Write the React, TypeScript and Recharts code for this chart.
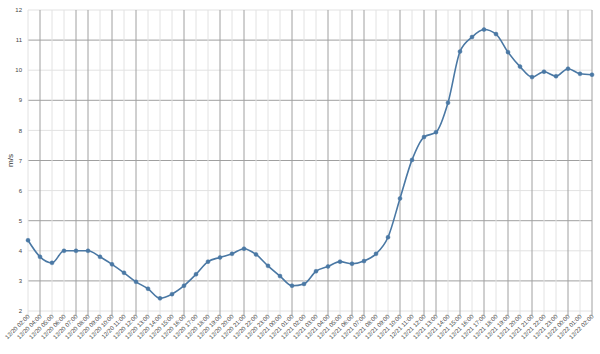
import React from 'react';
import { LineChart, Line, XAxis, YAxis, CartesianGrid } from 'recharts';

const times: string[] = [
  '12/20 02:00', '12/20 04:00', '12/20 05:00', '12/20 06:00', '12/20 07:00', '12/20 08:00',
  '12/20 09:00', '12/20 10:00', '12/20 11:00', '12/20 12:00', '12/20 13:00', '12/20 14:00',
  '12/20 15:00', '12/20 16:00', '12/20 17:00', '12/20 18:00', '12/20 19:00', '12/20 20:00',
  '12/20 21:00', '12/20 22:00', '12/20 23:00', '12/21 00:00', '12/21 01:00', '12/21 02:00',
  '12/21 03:00', '12/21 04:00', '12/21 05:00', '12/21 06:00', '12/21 07:00', '12/21 08:00',
  '12/21 09:00', '12/21 10:00', '12/21 11:00', '12/21 12:00', '12/21 13:00', '12/21 14:00',
  '12/21 15:00', '12/21 16:00', '12/21 17:00', '12/21 18:00', '12/21 19:00', '12/21 20:00',
  '12/21 21:00', '12/21 22:00', '12/21 23:00', '12/22 00:00', '12/22 01:00', '12/22 02:00',
];

const speeds: number[] = [
  4.35, 3.8, 3.6, 4.0, 4.0, 4.0,
  3.8, 3.55, 3.27, 2.97, 2.74, 2.42,
  2.56, 2.84, 3.22, 3.64, 3.78, 3.9,
  4.07, 3.88, 3.5, 3.16, 2.84, 2.9,
  3.32, 3.48, 3.64, 3.57, 3.66, 3.9,
  4.45, 5.74, 7.02, 7.78, 7.94, 8.92,
  10.62, 11.1, 11.35, 11.2, 10.6, 10.12,
  9.77, 9.95, 9.8, 10.05, 9.88, 9.85,
];

const yTicks: number[] = [2, 3, 4, 5, 6, 7, 8, 9, 10, 11, 12];

const darkVertical = new Set([1, 4, 5, 7, 9, 13, 16, 18, 22, 25, 27, 28, 31, 33, 34, 36, 38, 40, 42, 45, 47]);

const data = times.map((t, i) => ({ time: t, speed: speeds[i] }));

const FONT = '"Liberation Sans", Arial, Helvetica, sans-serif';

const XTick = (props: any) => {
  const { x, y, payload } = props;
  return (
    <g transform={`translate(${x + 2},${y})`}>
      <text
        x={0}
        y={0}
        textAnchor="end"
        transform="rotate(-45)"
        fontSize={6}
        fontFamily={FONT}
        fill="#444"
      >
        {payload.value}
      </text>
    </g>
  );
};

const vLine = (props: any) => {
  const { x1, y1, x2, y2, index } = props;
  return (
    <line
      key={`v-${index}`}
      x1={x1}
      y1={y1}
      x2={x2}
      y2={y2 + 4}
      stroke={darkVertical.has(index) ? '#a0a0a0' : '#e2e2e2'}
      strokeWidth={1}
    />
  );
};

const hLine = (props: any) => {
  const { x1, y1, x2, y2, index } = props;
  const dark = index % 2 === 1;
  return (
    <line
      key={`h-${index}`}
      x1={x1}
      y1={y1}
      x2={x2}
      y2={y2}
      stroke={dark ? '#a0a0a0' : '#e2e2e2'}
      strokeWidth={1}
    />
  );
};

export default function App() {
  return (
    <div style={{ position: 'absolute', left: 0, top: 0, width: 600, height: 354, background: '#fff' }}>
      <LineChart
        width={600}
        height={354}
        data={data}
        margin={{ top: 10, right: 8, left: 0, bottom: 0 }}
      >
        <CartesianGrid horizontal={hLine} vertical={vLine} />
        <XAxis
          dataKey="time"
          interval={0}
          height={43}
          tick={<XTick />}
          tickLine={false}
          axisLine={false}
          tickSize={4}
          tickMargin={2}
        />
        <YAxis
          width={28}
          domain={[2, 12]}
          ticks={yTicks}
          interval={0}
          tickLine={false}
          axisLine={false}
          tickSize={4}
          tickMargin={2}
          tick={{ fontSize: 6, fill: '#444', fontFamily: FONT }}
          label={{ value: 'm/s', angle: -90, position: 'center', dx: -4, fontSize: 8, fill: '#333', fontFamily: FONT }}
        />
        <Line
          type="monotone"
          dataKey="speed"
          stroke="#4a78a4"
          strokeWidth={1.6}
          dot={{ r: 2, fill: '#4a78a4', stroke: '#4a78a4', strokeWidth: 0.5 }}
          isAnimationActive={false}
        />
      </LineChart>
    </div>
  );
}
